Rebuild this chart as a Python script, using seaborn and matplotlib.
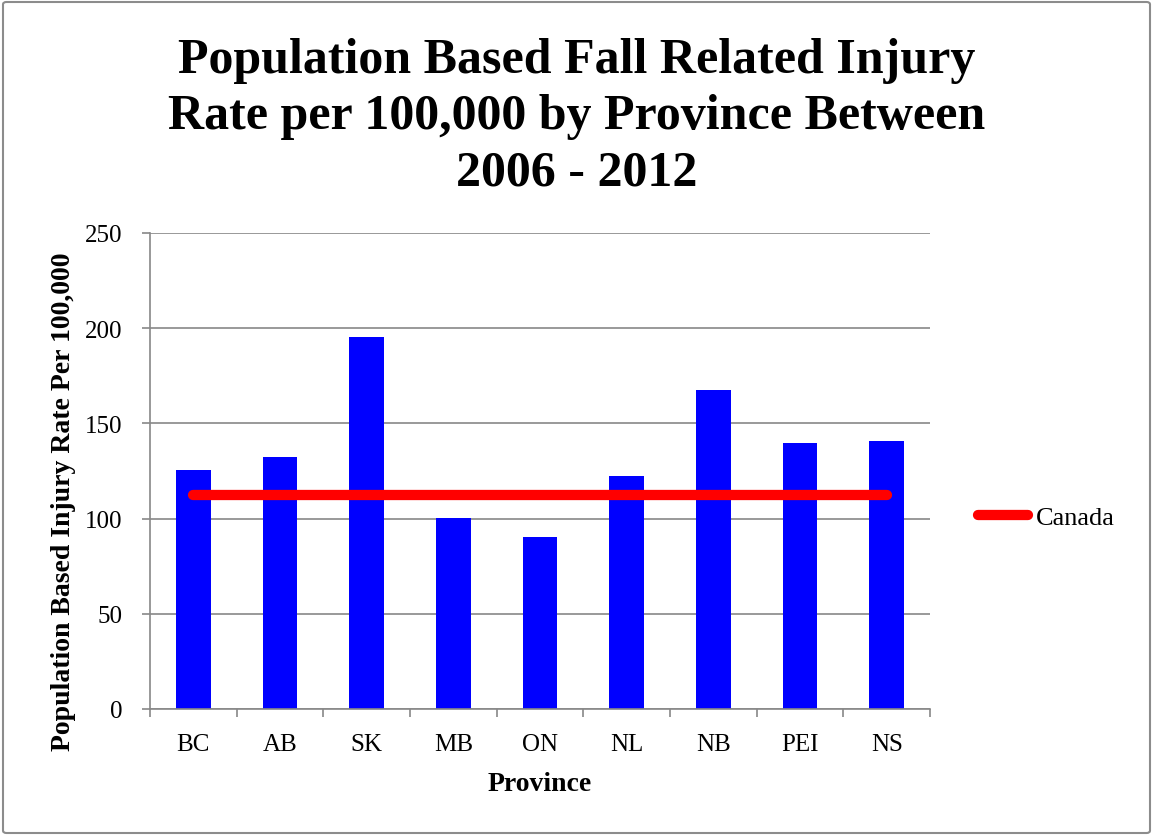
import matplotlib
matplotlib.use("Agg")
import matplotlib.pyplot as plt
from matplotlib.patches import FancyBboxPatch
import seaborn as sns
import pandas as pd

provinces = ["BC", "AB", "SK", "MB", "ON", "NL", "NB", "PEI", "NS"]
injury_rates = [125.4, 132.5, 195.2, 100.5, 90.5, 122.4, 167.5, 139.9, 140.9]
canada_rate = 112.6
y_ticks = [0, 50, 100, 150, 200, 250]

title_lines = ["Population Based Fall Related Injury",
               "Rate per 100,000 by Province Between",
               "2006 - 2012"]
y_label = "Population Based Injury Rate Per 100,000"
x_label = "Province"
legend_label = "Canada"

W, H = 1153, 837

sns.set_theme(style="white")
plt.rcParams["font.family"] = ["Liberation Serif", "DejaVu Serif"]
plt.rcParams["text.color"] = "black"
plt.rcParams["axes.labelcolor"] = "black"

df = pd.DataFrame({"Province": provinces, "Rate": injury_rates})
canada_df = pd.DataFrame({"Province": provinces,
                          "Rate": [canada_rate] * len(provinces)})

fig = plt.figure(figsize=(W / 100, H / 100), dpi=100)
ax = fig.add_axes([150 / W, 127 / H, 780 / W, 476 / H])

sns.barplot(data=df, x="Province", y="Rate", color="#0000ff", saturation=1,
            width=0.4, ax=ax, zorder=2, edgecolor="none")
sns.lineplot(data=canada_df, x="Province", y="Rate", color="#ff0000",
             linewidth=7.4, ax=ax, zorder=3, label=legend_label,
             solid_capstyle="round")

ax.set_xlim(-0.5, len(provinces) - 0.5)
ax.set_ylim(0, 250)
ax.set_yticks(y_ticks)
ax.set_yticklabels([str(t) for t in y_ticks], fontsize=18)
ax.set_xticks(range(len(provinces)))
ax.set_xticklabels(provinces, fontsize=18)
ax.tick_params(axis="x", which="major", length=0, pad=17.5, labelcolor="black")
ax.set_xticks([i - 0.5 for i in range(len(provinces) + 1)], minor=True)
ax.tick_params(axis="x", which="minor", length=6, width=1.2, color="#888888",
               direction="out", bottom=True)
ax.tick_params(axis="y", length=5.8, width=1.2, color="#888888", direction="out",
               pad=14, left=True, labelcolor="black")

ax.yaxis.grid(True, color="#888888", linewidth=1.2, zorder=0)
ax.set_axisbelow(True)
for side in ("top", "right"):
    ax.spines[side].set_visible(False)
for side in ("left", "bottom"):
    ax.spines[side].set_color("#888888")
    ax.spines[side].set_linewidth(1.2)

ax.set_xlabel(x_label, fontsize=20, fontweight="bold", labelpad=11.5)
ax.set_ylabel(y_label, fontsize=20, fontweight="bold")
ax.yaxis.set_label_coords(-0.095, 0.438)

# three-line title, one baseline per line
for line, base in zip(title_lines, [73, 129, 185]):
    fig.text(0.5, 1 - base / H, line, fontsize=36, fontweight="bold",
             ha="center", va="baseline", color="black")

ax.legend(loc="center left", bbox_to_anchor=(1.0615, 0.403), frameon=False,
          fontsize=19, handlelength=1.9, handletextpad=0.3,
          borderpad=0, borderaxespad=0)

# outer chart frame
fig.patches.append(FancyBboxPatch((3 / W, 3 / H), 1147 / W, 831 / H,
                                  boxstyle="round,pad=0,rounding_size=0.003",
                                  transform=fig.transFigure, fill=False,
                                  edgecolor="#8c8c8c", linewidth=1.5))

fig.savefig("out.png", dpi=100)
